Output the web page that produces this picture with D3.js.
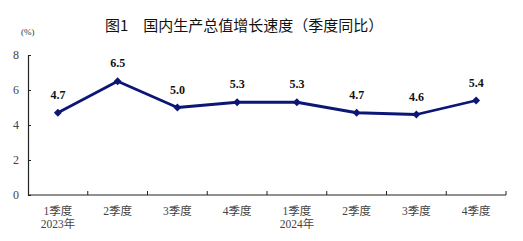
<!DOCTYPE html>
<html>
<head>
<meta charset="utf-8">
<script src="https://cdn.jsdelivr.net/npm/d3@7"></script>
<style>
    body { margin: 0; background: #fff; }
    svg { display: block; }
</style>
</head>
<body>
<div id="chart"></div>
<script>
const quarters = ["1季度", "2季度", "3季度", "4季度", "1季度", "2季度", "3季度", "4季度"];
const years = ["2023年", "", "", "", "2024年", "", "", ""];
const growth = [4.7, 6.5, 5.0, 5.3, 5.3, 4.7, 4.6, 5.4];
const yTicks = [0, 2, 4, 6, 8];

const width = 523, height = 241;
const margin = { top: 55, right: 17, bottom: 46, left: 28 };
const serif = "'Liberation Serif', 'Times New Roman', 'Noto Sans CJK SC', serif";
const lineColor = "#0c1677";

const svg = d3.select("#chart").append("svg")
    .attr("width", width)
    .attr("height", height);

svg.append("text")
    .attr("x", 105)
    .attr("y", 31)
    .style("font-family", "'Noto Sans CJK SC', sans-serif")
    .style("font-size", "15px")
    .style("font-weight", 400)
    .attr("fill", "#111")
    .attr("xml:space", "preserve")
    .text("图1　国内生产总值增长速度（季度同比）");

svg.append("text")
    .attr("x", 21)
    .attr("y", 35)
    .style("font-family", serif)
    .style("font-size", "9px")
    .attr("fill", "#333")
    .text("(%)");

const idx = d3.range(quarters.length);
const x = d3.scaleBand()
    .domain(idx)
    .range([margin.left, width - margin.right]);
const y = d3.scaleLinear()
    .domain([0, 8])
    .range([height - margin.bottom, margin.top]);

// y axis, ticks pointing inward
const yAxis = svg.append("g")
    .attr("transform", `translate(${margin.left},0)`)
    .call(d3.axisRight(y).tickValues(yTicks).tickSize(3).tickSizeOuter(0).tickFormat(""));
yAxis.select(".domain").attr("stroke", "#222").attr("stroke-width", 1.2);
yAxis.selectAll(".tick line").attr("stroke", "#222");

yAxis.selectAll(".ylab")
    .data(yTicks)
    .enter().append("text")
    .attr("x", -12)
    .attr("y", d => y(d) + 4)
    .attr("text-anchor", "middle")
    .style("font-family", serif)
    .style("font-size", "12px")
    .attr("fill", "#444")
    .text(d => d);

// x axis with boundary ticks pointing up
const bounds = idx.map(i => x(i) + x.bandwidth());
const xAxis = svg.append("g")
    .attr("transform", `translate(0,${y(0)})`);
xAxis.append("line")
    .attr("x1", margin.left)
    .attr("x2", width - margin.right)
    .attr("stroke", "#222")
    .attr("stroke-width", 1.2);
xAxis.selectAll(".xtick")
    .data(bounds)
    .enter().append("line")
    .attr("x1", d => d)
    .attr("x2", d => d)
    .attr("y1", 0)
    .attr("y2", -4)
    .attr("stroke", "#222");

const labels = xAxis.selectAll(".xlab")
    .data(idx)
    .enter().append("text")
    .attr("x", i => x(i) + x.bandwidth() / 2)
    .attr("text-anchor", "middle")
    .style("font-family", serif)
    .style("font-size", "11.5px")
    .attr("fill", "#444");
labels.append("tspan")
    .attr("x", i => x(i) + x.bandwidth() / 2)
    .attr("y", 20)
    .text(i => quarters[i]);
labels.append("tspan")
    .attr("x", i => x(i) + x.bandwidth() / 2)
    .attr("y", 33)
    .text(i => years[i]);

const cx = i => x(i) + x.bandwidth() / 2;

svg.append("path")
    .datum(idx)
    .attr("d", d3.line().x(cx).y(i => y(growth[i])))
    .attr("fill", "none")
    .attr("stroke", lineColor)
    .attr("stroke-width", 2.8)
    .attr("stroke-linejoin", "round");

svg.selectAll(".pt")
    .data(idx)
    .enter().append("path")
    .attr("d", d3.symbol(d3.symbolDiamond2, 40))
    .attr("transform", i => `translate(${cx(i)},${y(growth[i])})`)
    .attr("fill", lineColor);

svg.selectAll(".val")
    .data(idx)
    .enter().append("text")
    .attr("x", cx)
    .attr("y", i => y(growth[i]) - 14)
    .attr("text-anchor", "middle")
    .style("font-family", serif)
    .style("font-size", "12px")
    .style("font-weight", "bold")
    .attr("fill", "#111")
    .text(i => growth[i].toFixed(1));
</script>
</body>
</html>
